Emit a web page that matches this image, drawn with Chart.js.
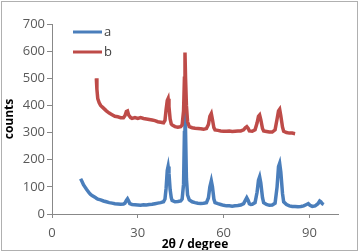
<!DOCTYPE html>
<html><head><meta charset="utf-8">
<script src="https://cdn.jsdelivr.net/npm/chart.js@4/dist/chart.umd.min.js"></script>
<style>html,body{margin:0;padding:0;background:#fff;}#wrap{width:359px;height:252px;position:relative;}</style>
</head><body><div id="wrap"><canvas id="c"></canvas></div>
<script>
const xTicks = [0, 30, 60, 90];
const seriesNames = ['a', 'b'];
const thetaA = [10,10.5,11,11.5,12,12.5,13,13.5,14,15,15.5,16,17,18,19,20,21,22,23,24,25,25.5,26,26.4,26.8,27.2,28,29,30,31,32,33,34,35,36,37,38,39,39.5,39.9,40.3,40.6,40.9,41.3,41.7,42,43,44,45,45.5,46,46.3,46.5,46.7,47,47.4,48,49,50,51,52,53,54,54.7,55.2,55.7,56.1,56.6,57,58,59,60,61,62,63,64,65,66,67,67.6,68.1,68.6,69,69.5,70,71,71.7,72.2,72.6,73,73.6,74,75,76,77,78,78.7,79.2,79.6,80,80.6,81,82,83,84,85,86,87,88,89,89.6,90.2,91,92,93,93.6,94,94.5,95];
const countsA = [130,120,108,100,92,85,78,72,68,62,58,55,52,48,45,42,40,38,37,36,37,40,50,56,48,38,35,34,33,32,34,33,35,36,38,40,42,45,55,95,160,175,150,90,60,50,45,46,48,55,110,300,440,300,130,70,52,45,42,40,39,40,42,60,100,122,100,55,42,38,35,32,30,30,29,30,31,33,38,50,60,50,38,35,36,42,80,125,137,115,60,42,35,32,33,40,100,175,187,155,75,45,35,30,28,28,27,28,30,35,38,32,28,30,38,48,45,38,35];
const thetaB = [15.5,15.7,16,16.5,17,18,19,20,21,22,23,24,25,25.5,26,26.4,26.8,27.5,28,29,30,31,32,33,34,35,36,37,38,39,39.5,39.9,40.3,40.6,40.9,41.3,41.7,42,43,44,45,45.5,46,46.3,46.5,46.7,47,47.4,48,49,50,51,52,53,54,54.7,55.2,55.7,56.1,56.6,57,58,59,60,61,62,63,64,65,66,67,67.6,68.1,68.6,69,70,71,71.7,72.2,72.6,73,73.6,74,75,76,77,78,78.7,79.2,79.6,80,80.6,81,82,83,84,85];
const countsB = [500,460,425,410,400,390,380,372,366,360,358,355,355,362,378,380,365,355,352,355,352,355,352,350,348,346,344,340,338,336,345,385,418,425,395,350,332,328,322,320,322,328,380,500,595,500,400,340,322,318,316,315,314,312,315,330,360,370,348,318,310,308,306,305,305,306,304,305,306,306,310,318,322,315,306,305,310,335,360,365,348,315,306,304,302,302,310,350,380,386,362,320,305,300,298,298,296];

const blue = '#4A7EBB', red = '#BE4B48';
const FONT = 'Open Sans';

const borderPlugin = {
  id: 'frame',
  afterDraw(chart) {
    const ctx = chart.ctx;
    ctx.save();
    ctx.strokeStyle = '#b0b0b0';
    ctx.lineWidth = 1;
    ctx.strokeRect(1.5, 1.5, chart.width - 3, chart.height - 3);
    ctx.restore();
  }
};
const legendPlugin = {
  id: 'insideLegend',
  afterDraw(chart) {
    const ctx = chart.ctx;
    const ca = chart.chartArea;
    ctx.save();
    chart.data.datasets.forEach((ds, i) => {
      const y = ca.top + 8 + i * 20;
      const x0 = ca.left + 21;
      ctx.strokeStyle = ds.borderColor;
      ctx.lineWidth = 3;
      ctx.beginPath(); ctx.moveTo(x0, y); ctx.lineTo(x0 + 29, y); ctx.stroke();
      ctx.fillStyle = '#404040';
      ctx.font = '13px "' + FONT + '"';
      ctx.textBaseline = 'middle';
      ctx.fillText(ds.label, x0 + 31, y);
    });
    ctx.restore();
  }
};

new Chart(document.getElementById('c'), {
  type: 'line',
  data: {
    datasets: [
      { label: seriesNames[0], data: thetaA.map((x, i) => ({x, y: countsA[i]})), borderColor: blue, borderWidth: 3.5, pointRadius: 0, tension: 0, order: 1 },
      { label: seriesNames[1], data: thetaB.map((x, i) => ({x, y: countsB[i]})), borderColor: red, borderWidth: 3.5, pointRadius: 0, tension: 0, order: 0 }
    ]
  },
  plugins: [legendPlugin, borderPlugin],
  options: {
    responsive: true, maintainAspectRatio: false, animation: false,
    layout: { padding: { left: 0, right: 21, top: 24, bottom: 0 } },
    plugins: { legend: { display: false }, tooltip: { enabled: false } },
    scales: {
      x: {
        type: 'linear', min: 0, max: 100,
        afterBuildTicks: s => { s.ticks = xTicks.map(v => ({value: v})); },
        afterFit: s => { s.height = 38; },
        border: { color: '#888888', width: 1 },
        grid: { drawOnChartArea: false, drawTicks: true, tickLength: 4, color: '#888888' },
        ticks: { color: '#595959', font: { family: FONT, size: 13 }, padding: 7, maxRotation: 0 },
        title: { display: true, text: '2θ / degree', color: '#000', font: { family: FONT, size: 12, weight: 'bold' }, padding: { top: 0, bottom: 0 } }
      },
      y: {
        min: 0, max: 700,
        afterFit: s => { s.width = 52; },
        border: { color: '#888888', width: 1 },
        grid: { drawOnChartArea: false, drawTicks: true, tickLength: 5, color: '#888888' },
        ticks: { stepSize: 100, color: '#595959', font: { family: FONT, size: 13 }, padding: 2 },
        title: { display: true, text: 'counts', color: '#000', font: { family: FONT, size: 12, weight: 'bold' }, padding: { top: 2, bottom: 0 } }
      }
    }
  }
});
</script></body></html>
